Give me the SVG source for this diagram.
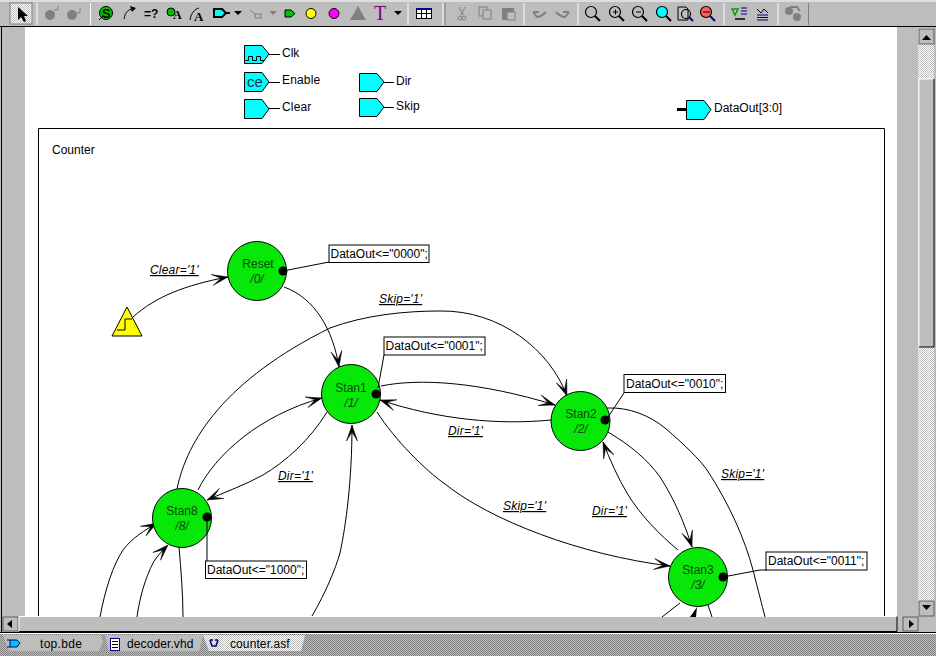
<svg xmlns="http://www.w3.org/2000/svg" width="936" height="656" viewBox="0 0 936 656">
<defs>
<pattern id="dither" width="2" height="2" patternUnits="userSpaceOnUse"><rect width="2" height="2" fill="#ffffff"/><rect width="1" height="1" fill="#bdbdbd"/><rect x="1" y="1" width="1" height="1" fill="#bdbdbd"/></pattern>
<pattern id="dark" width="2" height="2" patternUnits="userSpaceOnUse"><rect width="2" height="2" fill="#bdbdbd"/><rect width="1" height="1" fill="#808080"/><rect x="1" y="1" width="1" height="1" fill="#808080"/></pattern>
<marker id="arr" markerUnits="userSpaceOnUse" markerWidth="20" markerHeight="16" refX="17" refY="8" orient="auto"><path d="M17 8 L1 2.500 L10 8 L1 13.500 Z" fill="#000" stroke="#000" stroke-width="0.500"/></marker>
</defs>
<style>
text{font-family:"Liberation Sans",Arial,sans-serif;font-size:12px;fill:#000}
.state{fill:#08e808;stroke:#000;stroke-width:1}
.st{fill:#064a06;text-anchor:middle}
.sti{fill:#064a06;text-anchor:middle;font-style:italic}
.dot{fill:#000}
.act{fill:#fff;stroke:#000;stroke-width:1}
.cond{font-style:italic;text-decoration:underline;letter-spacing:.2px}
.port{fill:#00ffff;stroke:#000;stroke-width:1}
.wire{fill:none;stroke:#000;stroke-width:1}
.c{fill:none;stroke:#000;stroke-width:1}
.ca{fill:none;stroke:#000;stroke-width:1;marker-end:url(#arr)}
.sep{stroke:#808080;stroke-width:1}
.sepw{stroke:#fff;stroke-width:1}
</style>
<rect width="936" height="656" fill="#bdbdbd"/>
<rect x="25" y="27" width="872" height="589" fill="#fff"/>
<g id="toolbar">
<rect x="0" y="0" width="936" height="26" fill="#bdbdbd"/>
<line x1="0" y1="1" x2="936" y2="1" stroke="#fff"/>
<line x1="0" y1="26.500" x2="936" y2="26.500" stroke="#000"/>
<rect x="10" y="3" width="22" height="21" fill="url(#dither)" stroke="#808080"/>
<path d="M18 7 L18 20 L21 17 L24 22 L26 21 L24 16 L28 16 Z" fill="#000"/>
<g fill="#808080"><circle cx="50" cy="15" r="5"/><circle cx="72" cy="15" r="5"/></g>
<path d="M54 10 L58 10 L58 6 M76 13 L80 13 L80 8" fill="none" stroke="#808080"/>
<line x1="37" y1="3" x2="37" y2="25" class="sepw"/><line x1="90.500" y1="3" x2="90.500" y2="25" class="sepw"/>
<circle cx="106" cy="13" r="6.500" fill="#00c000" stroke="#000"/>
<text x="102" y="18" style="font-weight:bold;font-size:13px">S</text>
<line x1="99" y1="20" x2="103" y2="16" stroke="#000"/>
<path d="M124 19 C125 12 129 9 133 9" fill="none" stroke="#000"/><path d="M136 8 L130 6 L132 12 Z" fill="#000"/>
<text x="144" y="18" style="font-weight:bold;font-size:12px">=?</text>
<circle cx="171" cy="12" r="4" fill="#00c000" stroke="#000"/>
<text x="173" y="19" style="font-family:'Liberation Serif',serif;font-weight:bold;font-size:12px">A</text>
<path d="M190 20 C191 13 195 9 199 8" fill="none" stroke="#000"/>
<text x="194" y="21" style="font-family:'Liberation Serif',serif;font-weight:bold;font-size:13px">A</text>
<path d="M214 9 L222 9 L226 13 L222 17 L214 17 Z" fill="#00ffff" stroke="#000" stroke-width="2"/><line x1="226" y1="13" x2="230" y2="13" stroke="#000" stroke-width="2"/>
<path d="M234 11 L242 11 L238 15 Z" fill="#000"/>
<path d="M250 10 L256 15" stroke="#808080" fill="none"/><rect x="255" y="14" width="6" height="4" fill="none" stroke="#808080"/>
<path d="M269 11 L277 11 L273 15 Z" fill="#808080"/>
<path d="M285 10 L291 10 L295 13.500 L291 17 L285 17 Z" fill="#00c000" stroke="#000"/>
<circle cx="311" cy="13.500" r="5" fill="#ffff00" stroke="#000"/>
<circle cx="334" cy="13.500" r="5" fill="#ff00ff" stroke="#000"/>
<path d="M350 20 L358 6 L366 20 Z" fill="#808080"/>
<text x="374" y="20" style="font-family:'Liberation Serif',serif;font-size:20px;fill:#800080">T</text>
<path d="M394 11 L402 11 L398 15 Z" fill="#000"/>
<line x1="408" y1="3" x2="408" y2="25" class="sepw"/>
<rect x="416.500" y="8.500" width="15" height="10" fill="#fff" stroke="#000"/><path d="M421.500 9 V18 M426.500 9 V18 M417 13.500 H431" stroke="#000" fill="none"/><rect x="416" y="8" width="16" height="2" fill="#000080"/>
<line x1="443" y1="3" x2="443" y2="25" class="sepw"/><line x1="445" y1="3" x2="445" y2="25" class="sep"/>
<path d="M459 7 L463 15 M465 7 L461 15" stroke="#808080" fill="none"/><circle cx="460" cy="18" r="2" fill="none" stroke="#808080"/><circle cx="464" cy="18" r="2" fill="none" stroke="#808080"/>
<rect x="479" y="7" width="8" height="9" fill="none" stroke="#808080"/><rect x="483" y="10" width="8" height="9" fill="#bdbdbd" stroke="#808080"/>
<rect x="502" y="8" width="12" height="12" fill="#808080"/><rect x="507" y="12" width="8" height="8" fill="#bdbdbd" stroke="#808080"/>
<line x1="524" y1="3" x2="524" y2="25" class="sepw"/>
<path d="M533 12 L537 17 C541 17 544 14 546 12 M533 12 L539 12" fill="none" stroke="#808080" stroke-width="2"/>
<path d="M569 12 L565 17 C561 17 558 14 556 12 M569 12 L563 12" fill="none" stroke="#808080" stroke-width="2"/>
<line x1="578" y1="3" x2="578" y2="25" class="sepw"/>
<g fill="none" stroke="#000" stroke-width="1.200"><circle cx="591" cy="12" r="5.500"/><circle cx="615" cy="12" r="5.500"/><circle cx="638" cy="12" r="5.500"/><circle cx="662" cy="12" r="5.500" fill="#00ffff"/><circle cx="686" cy="14" r="4.500"/><circle cx="706" cy="12" r="5.500" fill="#ff6060"/></g>
<path d="M613 12 H618 M615.500 9.500 V14.500 M636 12 H641 M703 12 H710" stroke="#000" fill="none"/>
<g stroke="#000" stroke-width="2"><line x1="595" y1="16" x2="600" y2="21"/><line x1="619" y1="16" x2="624" y2="21"/><line x1="642" y1="16" x2="647" y2="21"/><line x1="666" y1="16" x2="671" y2="21"/></g>
<g stroke="#000080" stroke-width="2"><line x1="689" y1="17" x2="693" y2="21"/><line x1="710" y1="16" x2="715" y2="21"/></g>
<path d="M678 7 H686 L688 9 V20 H678 Z" fill="none" stroke="#000"/>
<line x1="724" y1="3" x2="724" y2="25" class="sepw"/>
<path d="M732 9 H738 L735 15 Z" fill="none" stroke="#00a000" stroke-width="1.500"/><path d="M741 8 H747 M741 11 H747 M741 14 H747" stroke="#000080"/><path d="M735 19 H745" stroke="#000" stroke-width="1.500"/>
<path d="M757 9 L761 13 L764 9 L768 13" stroke="#000" fill="none"/><path d="M757 15 H768 M757 17.500 H768 M757 20 H768" stroke="#000080"/>
<line x1="778" y1="3" x2="778" y2="25" class="sepw"/>
<circle cx="789" cy="11" r="4" fill="#808080"/><circle cx="797" cy="17" r="4" fill="#808080"/><path d="M790 7 H797 L800 11" stroke="#808080" fill="none" stroke-width="2"/>
<line x1="808.500" y1="3" x2="808.500" y2="25" class="sep"/>
</g>
<g id="window-chrome">
<line x1="1.500" y1="27" x2="1.500" y2="634" stroke="#000"/>
<rect x="918" y="28" width="16" height="588" fill="url(#dither)"/>
<rect x="919" y="29" width="15" height="15" fill="#bdbdbd" stroke="#000" stroke-width="0.500"/><path d="M922 40 L931 40 L926.500 35 Z" fill="#000"/>
<rect x="919" y="79" width="15" height="268" fill="#bdbdbd"/><path d="M919 347 V79 H934" fill="none" stroke="#fff"/><path d="M934 79 V347 H919" fill="none" stroke="#000"/>
<rect x="919" y="601" width="15" height="15" fill="#bdbdbd" stroke="#000" stroke-width="0.500"/><path d="M922 605 L931 605 L926.500 610 Z" fill="#000"/>
<rect x="3" y="617" width="15" height="14" fill="#bdbdbd" stroke="#000" stroke-width="0.500"/><path d="M12 620 L12 628 L7 624 Z" fill="#000"/>
<rect x="19" y="616" width="878" height="15.500" fill="#bdbdbd"/><path d="M19 631 V616.500 H897" fill="none" stroke="#fff"/><path d="M897 616.500 V631.500 H19" fill="none" stroke="#000"/>
<rect x="903" y="617" width="15" height="14" fill="#bdbdbd" stroke="#000" stroke-width="0.500"/><path d="M909 620 L909 628 L914 624 Z" fill="#000"/>
<line x1="0" y1="632.500" x2="936" y2="632.500" stroke="#000"/>
<line x1="0" y1="633.500" x2="936" y2="633.500" stroke="#fff"/>
<rect x="0" y="634" width="936" height="22" fill="url(#dark)"/>
<path d="M3 635 H101 L103 642 L99 651 H9 Z" fill="#bdbdbd"/>
<path d="M105 635 H203 L199 651 H109 Z" fill="#bdbdbd"/>
<path d="M203 635 H305 L301 651 H209 Z" fill="url(#dither)"/>
<path d="M10 640 H17 L20 643 L17 647 H10 Z M7 640 H10 M7 647 H10" fill="#00c0ff" stroke="#000080"/>
<rect x="110.500" y="638.500" width="9" height="12" fill="#fff" stroke="#000080"/><path d="M112 641.500 H118 M112 644.500 H118 M112 647.500 H118" stroke="#000"/>
<path d="M210 640 L212 646 H216 L218 640 M210 640 H213 M215 640 H218" fill="none" stroke="#000080" stroke-width="1.500"/>
<text x="40" y="648" style="letter-spacing:.3px">top.bde</text>
<text x="127" y="648" style="letter-spacing:.1px">decoder.vhd</text>
<text x="230" y="648" style="letter-spacing:.1px">counter.asf</text>
</g>
<g id="ports">
<g id="port-clk"><path class="port" d="M244.500 45.500 H262 L269 54 L262 63.500 H244.500 Z"/><path d="M245.500 60.500 H248.500 V56.500 H252.500 V60.500 H256.500 V56.500 H260.500 V60.500 H264.500" fill="none" stroke="#000"/><line class="wire" x1="269" y1="54.500" x2="280" y2="54.500"/><text x="282" y="57">Clk</text></g>
<g id="port-enable"><path class="port" d="M244.500 72.500 H262 L269 82 L262 91.500 H244.500 Z"/><text x="247" y="87" style="font-size:15px;fill:#003c50">ce</text><line class="wire" x1="269" y1="82.500" x2="280" y2="82.500"/><text x="282" y="84" style="letter-spacing:.15px">Enable</text></g>
<g id="port-clear"><path class="port" d="M244.500 99.500 H262 L269 109 L262 118.500 H244.500 Z"/><line class="wire" x1="269" y1="108.500" x2="280" y2="108.500"/><text x="282" y="111" style="letter-spacing:.15px">Clear</text></g>
<g id="port-dir"><path class="port" d="M359.500 73.500 H377 L384 82 L377 91.500 H359.500 Z"/><line class="wire" x1="384" y1="82.500" x2="394" y2="82.500"/><text x="396" y="85">Dir</text></g>
<g id="port-skip"><path class="port" d="M359.500 98.500 H377 L384 107 L377 116.500 H359.500 Z"/><line class="wire" x1="384" y1="107.500" x2="394" y2="107.500"/><text x="396" y="110" style="letter-spacing:.15px">Skip</text></g>
<g id="port-dataout"><path class="port" d="M686.500 100.500 H704 L711 109.500 L704 119.500 H686.500 Z"/><line x1="677" y1="109.500" x2="686" y2="109.500" stroke="#000" stroke-width="3"/><text x="714" y="112">DataOut[3:0]</text></g>
</g>
<g id="frame">
<path d="M38.500 616 V128.500 H884.500 V616" fill="none" stroke="#000"/>
<text x="52" y="154">Counter</text>
</g>
<g id="connectors">
<path class="ca" d="M133 317 C155 297 185 285 228 277"/>
<path class="ca" d="M284 287 C315 298 333 330 339 367"/>
<path class="ca" d="M177 489 C187 440 225 380 330 328 C365 315 405 311 440 311 C500 310 550 350 567 396"/>
<path class="ca" d="M381 386 C420 378 480 382 555 405"/>
<path class="ca" d="M551 420 C500 425 440 420 380 400"/>
<path class="ca" d="M327 412 C310 440 285 462 263 475 C245 485 225 492 207 500"/>
<path class="ca" d="M198 490 C215 455 260 415 322 398"/>
<path class="ca" d="M377 412 C395 440 425 470 445 484 C490 520 580 555 670 566"/>
<path class="ca" d="M608 432 C630 445 648 460 660 477 C675 500 685 525 692 547"/>
<path class="ca" d="M678 550 C660 535 640 515 627 493 C618 478 610 460 603 442"/>
<path class="c" d="M607 408 C630 407 650 416 665 428 C685 445 700 460 707 470 C730 505 745 540 753 570 C758 590 762 605 765 617"/>
<path class="c" d="M680 603 L662 617"/>
<path class="c" d="M708 605 L712 617"/>
<path d="M697 607 L696 617 H690 Z" fill="#000"/>
<path class="ca" d="M100 617 C105 590 113 565 123 550 C132 538 145 530 157 523"/>
<path class="ca" d="M137 617 C140 595 146 577 153 563 C157 556 162 551 168 545"/>
<path class="c" d="M179 547 C181 570 183 595 183 617"/>
<path class="ca" d="M312 616 C326 592 335 570 340 553 C346 525 352 480 352 425"/>
</g>
<g id="start"><path d="M127 307 L142 336 H112 Z" fill="#ffff00" stroke="#000"/><path d="M117 330 H125 V319 H132" fill="none" stroke="#000"/></g>
<g id="state-reset"><circle class="state" cx="257" cy="271" r="29.500"/><text class="st" x="258" y="268">Reset</text><text class="sti" x="257" y="283">/0/</text></g>
<g id="state-stan1"><circle class="state" cx="351" cy="394" r="29.500"/><text class="st" x="351" y="392">Stan1</text><text class="sti" x="351" y="407">/1/</text></g>
<g id="state-stan2"><circle class="state" cx="580.500" cy="421" r="29.500"/><text class="st" x="581" y="418">Stan2</text><text class="sti" x="581" y="433">/2/</text></g>
<g id="state-stan3"><circle class="state" cx="698" cy="577" r="29.500"/><text class="st" x="698" y="574">Stan3</text><text class="sti" x="698" y="589">/3/</text></g>
<g id="state-stan8"><circle class="state" cx="182" cy="518" r="29.500"/><text class="st" x="182" y="515">Stan8</text><text class="sti" x="182" y="530">/8/</text></g>
<g id="actions">
<g id="action-reset"><path class="c" d="M283 271 L329 262"/><circle class="dot" cx="283" cy="271" r="4.500"/><rect class="act" x="329" y="245" width="100" height="17.500"/><text x="330.500" y="258">DataOut&lt;="0000";</text></g>
<g id="action-stan1"><path class="c" d="M384 355 L378 388"/><circle class="dot" cx="376" cy="394" r="4.500"/><rect class="act" x="384" y="337" width="101" height="18"/><text x="385.500" y="350">DataOut&lt;="0001";</text></g>
<g id="action-stan2"><path class="c" d="M624 393 L606 420"/><circle class="dot" cx="605" cy="420" r="4.500"/><rect class="act" x="624" y="374.500" width="101.500" height="18"/><text x="626" y="388">DataOut&lt;="0010";</text></g>
<g id="action-stan3"><path class="c" d="M723 577 L760 570 H767"/><circle class="dot" cx="723" cy="577" r="4.500"/><rect class="act" x="766" y="552" width="101" height="18"/><text x="768" y="565">DataOut&lt;="0011";</text></g>
<g id="action-stan8"><path class="c" d="M207 517 V561"/><circle class="dot" cx="207" cy="517" r="4.500"/><rect class="act" x="205.500" y="561" width="101" height="17.500"/><text x="207" y="574">DataOut&lt;="1000";</text></g>
</g>
<g id="labels">
<text class="cond" x="150" y="274">Clear='1'</text>
<text class="cond" x="379" y="303">Skip='1'</text>
<text class="cond" x="448" y="435">Dir='1'</text>
<text class="cond" x="278" y="480">Dir='1'</text>
<text class="cond" x="503" y="510">Skip='1'</text>
<text class="cond" x="592" y="515">Dir='1'</text>
<text class="cond" x="721" y="478">Skip='1'</text>
</g>
</svg>
